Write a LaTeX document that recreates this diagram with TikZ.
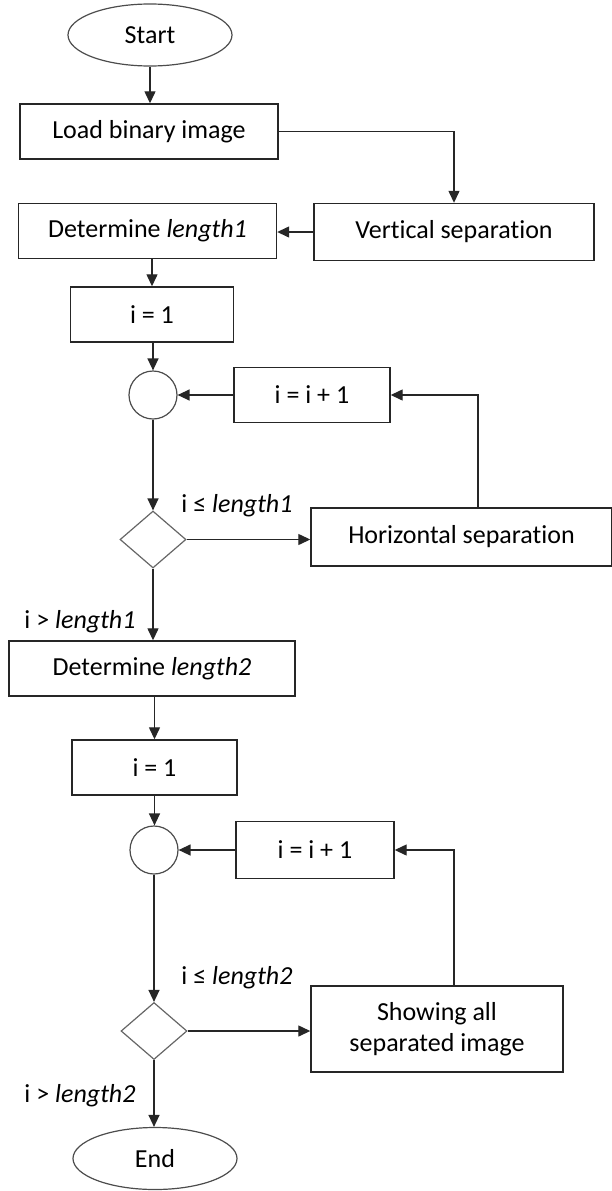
\documentclass[tikz,border=0pt]{standalone}
\usepackage{fontspec}
\setmainfont{Carlito}[Ligatures=NoCommon]
\usetikzlibrary{arrows.meta,shapes.geometric}
\begin{document}
\begin{tikzpicture}[x=1pt,y=-1pt,
  font=\fontsize{26}{31}\selectfont,
  box/.style={draw=black!85, line width=1.4pt, rectangle, inner sep=0pt, text=black},
  term/.style={draw=black!70, line width=1.2pt, ellipse, inner sep=0pt, minimum width=164pt, minimum height=62pt},
  junc/.style={draw=black!70, line width=1.2pt, circle, minimum size=48pt, inner sep=0pt},
  dec/.style={draw=black!60, line width=1.2pt, diamond, minimum width=66pt, minimum height=57pt, inner sep=0pt},
  arr/.style={line width=1.3pt, draw=black!85, -{Triangle[length=12pt,width=11pt]}},
  lab/.style={inner sep=0pt}]
\useasboundingbox (0,0) rectangle (612,1191);
\node[term] (start) at (150,35) {Start};
\node[box, minimum width=258pt, minimum height=55pt] (load) at (149,131.5) {Load binary image};
\node[box, minimum width=280pt, minimum height=57pt] (vsep) at (454,232) {Vertical separation};
\node[box, minimum width=258pt, minimum height=55pt] (det1) at (147.5,231) {Determine \textit{length1}};
\node[box, minimum width=163pt, minimum height=55pt] (ia) at (152,314.5) {i = 1};
\node[junc] (ca) at (153,395) {};
\node[box, minimum width=156pt, minimum height=55pt] (inca) at (312,395) {i = i + 1};
\node[dec] (da) at (153,539.5) {};
\node[box, minimum width=301pt, minimum height=58pt] (hsep) at (461.5,537) {Horizontal separation};
\node[box, minimum width=286pt, minimum height=55pt] (det2) at (152,668.5) {Determine \textit{length2}};
\node[box, minimum width=165pt, minimum height=55pt] (ib) at (154.5,767.5) {i = 1};
\node[junc] (cb) at (154,850) {};
\node[box, minimum width=158pt, minimum height=57pt] (incb) at (315,850) {i = i + 1};
\node[dec] (db) at (154,1031) {};
\node[box, minimum width=252pt, minimum height=86pt, align=center] (show) at (437,1029) {Showing all\\separated image};
\node[term] (end) at (155,1158.5) {End};
\node[lab] (la1) at (237,506) {i ≤ \textit{length1}};
\node[lab] (lb1) at (80,622) {i > \textit{length1}};
\node[lab] (la2) at (237,978) {i ≤ \textit{length2}};
\node[lab] (lb2) at (80,1096) {i > \textit{length2}};
\draw[arr] (start.south) -- (start.south |- load.north);
\draw[arr] (load.east) -| (vsep.north);
\draw[arr] (vsep.west) -- (vsep.west -| det1.east);
\draw[arr] (ia.north |- det1.south) -- (ia.north);
\draw[arr] (ca.north |- ia.south) -- (ca.north);
\draw[arr] (inca.west) -- (ca.east);
\draw[arr] ([xshift=16.5pt]hsep.north) |- (inca.east);
\draw[arr] (ca.south) -- (da.north);
\draw[arr] (da.east) -- (da.east -| hsep.west);
\draw[arr] (da.south) -- (da.south |- det2.north);
\draw[arr] (ib.north |- det2.south) -- (ib.north);
\draw[arr] (ib.south) -- (ib.south |- cb.north);
\draw[arr] (incb.west) -- (cb.east);
\draw[arr] ([xshift=17pt]show.north) |- (incb.east);
\draw[arr] (cb.south) -- (db.north);
\draw[arr] (db.east) -- (db.east -| show.west);
\draw[arr] (db.south) -- (db.south |- end.north);
\end{tikzpicture}
\end{document}
